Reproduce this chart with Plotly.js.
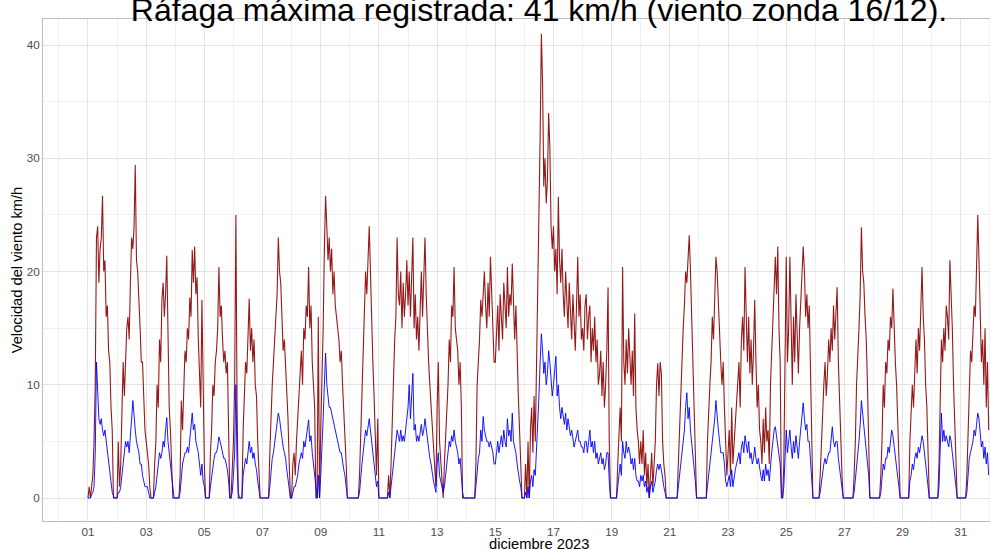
<!DOCTYPE html>
<html>
<head>
<meta charset="utf-8">
<script src="https://cdn.plot.ly/plotly-3.0.1.min.js"></script>
<style>
html,body{margin:0;padding:0;width:990px;height:549px;overflow:hidden;background:#fff;}
#chart{position:absolute;left:0;top:-20px;width:1045px;height:580px;}
</style>
</head>
<body>
<div id="chart"></div>
<script>
// Chart texts
const tituloGrafico = "Ráfaga máxima registrada: 41 km/h (viento zonda 16/12).";
const tituloEjeY = "Velocidad del viento km/h";
const tituloEjeX = "diciembre 2023";
const inicioMes = "2023-12-01";

// Hourly maximum gust (km/h), one row per day of December 2023
const rafagaPorDia = [
  [0,1,0,1,2,5,10,23,24,19,22,23,26.7,20,21,16,17,13,12,8,6,0,0,0],
  [0,5,1,3,8,12,9,13,15,16,14,19,23,22,24,29.4,21,20,16.6,15,12,12,9,6],
  [5,4,3,1,0,0,0,3,5,10,8,14,12,17.5,19,16,18,21.4,13,8,6,3,0,0],
  [0,0,0,0,2,8.6,6,10,13,12,15,14,17.7,16,21.9,19,22.2,18,19.5,14,10,8,17.5,10],
  [3,0,0,0,0,4,6,10,9,12,13,15,20.4,16,17,14,12,13,11,12,6,0,0,2],
  [5,10,25,8,0,0,0,0,6,10,12,11,14,17.6,13,15,12,14,10,9,5,2,0,0],
  [0,0,0,0,0,0,4,8,10,12,14,16,18,23,20,19,15,13,14,12,10,7,3,0],
  [0,3,4,2,5,7,9,11,13,10,15,14,17,16,20.4,15,17,12,10,8,0,0,16,0],
  [6,10,15,22,26.7,24,21,23,20,22,18,20,17,16,15,14,12,13,10,8,6,3,0,0],
  [0,0,0,0,0,0,0,0,2,6,10,13,16,20,18,21,24,20,15,12,9,6,2,7],
  [0,0,0,0,0,0,0,0,2,0,3,7,10,14,16,23,18,17,20,15,19,16,18,21],
  [17,20,16,19,23,15,18,14,16,13,17,20,16,19,23,18,14,12,10,8,6,4,2,1],
  [8,12,5,3,2,0,3,5,8,10,14,12,17,16,20.4,15,14,13,10,12,8,0,0,0],
  [0,0,0,0,0,0,0,0,3,10,12,14,17.5,16,18,20,17,15,19,16,21.3,18,14,12],
  [12,15,17,13,18,16,14,19,17,15,20.4,16,18,17,20.7,16,14,17,12,9,6,3,0,0],
  [0,3,0,5,0,6,8,4,9,5,12,15,22,32,41,36.6,27.5,30,26,28,34,31,24,22],
  [24,20,22,18,26.6,21,19,22,18,16,20,17,15,19,16,14,18,15,13,17,21.3,16,18,14],
  [15,13,17,18,14,16,17,12,15,13,16,12,14,10,11,13,9,12,8,10,13,18.6,5,0],
  [0,0,0,0,0,3,6,8,5,20.4,12,10,14,11,15,12,10,13,9,16.3,8,6,5,3],
  [5,3,6,2,4,1,3,0,2,4,1,3,5,10,11.9,9,12,11,5,3,2,0,0,0],
  [0,0,0,0,0,0,0,3,6,10,12,15,17,20,19,21,23.2,20,16,13,10,5,0,0],
  [0,0,0,0,0,0,0,5,8,10,12,16,14,18,21.3,20,17,14,12,10,12,8,4,2],
  [4,6,2,8,3,5,7,9,10,12,8,14,16,13,20.4,15,12,16,11,14,10,13,17.5,12],
  [8,10,6,5,3,7,4,8,5,6,3,10,13,17,20,21.3,18,22.2,15,12,0,0,3,10],
  [21.3,12,15,21.3,14,10,16,12,18,14,11,15,17,19,22.2,20,16,18,15,17,12,5,0,0],
  [0,0,0,0,2,5,8,10,12,9,11,14,12,15,13,17,14,16,18.6,12,8,5,2,0],
  [0,0,0,0,0,0,0,0,2,5,10,12,15,18,23.9,20,19,16,14,10,6,0,0,0],
  [0,0,0,0,0,0,2,5,10,8,12,11,14,13,16,15,18.5,14,12,10,6,3,0,0],
  [0,0,0,0,0,0,5,7,10,8,12,14,11,15,13,17,20.4,16,14,10,8,4,0,0],
  [0,0,0,0,0,0,3,10,14,12,15,13,17,16,14,21,18,15,10,6,3,0,0,0],
  [0,0,0,0,0,2,6,10,13,12,15,17,16,20,25,21,16,12,14,10,15,8,12,6]
];

// Hourly mean wind speed (km/h), one row per day
const vientoPorDia = [
  [0,0,0,0.3,0.5,1,4,12,9,7,6.5,7,6,5.5,6,5,4.5,3,2,1,0.5,0.2,0,0],
  [0,0.5,0.5,1,2,3,4,5,4.5,5,4,6,7,8.6,7,6,5,4.5,4,3,3,2,1.5,1],
  [1,1,0.5,0,0,0,0,0.5,1,2,3,4,3.5,4,5,4.5,6,7.1,5,4,3,1.5,0.5,0],
  [0,0,0,0,0.5,2,3,3.5,4,4,4.5,4,5,6,7.5,6,6.5,5,4.5,4,3,2,3,1.5],
  [1,0,0,0,0,1,2,3,3.5,4,4,4.5,5.4,5,4.5,4,3.5,3.5,3,2.5,1.5,0,0,0.5],
  [2,4,10,3,0.5,0,0,0,2,3,3.5,3,4,5,4,4.5,3.5,4,3,2.5,1.5,0.5,0,0],
  [0,0,0,0,0,0,1,2.5,3.5,4,5,6,6.5,7.5,7,6,5,4.5,4,3.5,2.5,1.5,0.5,0],
  [0,0.5,1,1,1.5,2,3,3.5,4,3.5,5,4.5,5.5,6,6.9,5,5.5,4,3,2,0.5,0,2,0],
  [2,4,7,10,12.8,10,9,8,8,7.5,7,6.5,6,5.5,5,4.5,4,4,3,2.5,2,1,0,0],
  [0,0,0,0,0,0,0,0,0.5,2,3,4,5,6,5.5,6.5,7,6,5,4,3,2,1,1.5],
  [0,0,0,0,0,0,0,0,0.5,0,1,2,3.5,4.5,5,6,5.5,5,6,5,5.5,5,6,7],
  [8,10,7,9,11,6,6.5,5,5.5,5,6,6.5,5.5,6,7,6,5,4,3.5,3,2,1.5,1,0.5],
  [3,4,2,1.5,1,0.5,1,2,3,4,5,4.5,5.5,5,6,5,4.5,4,3,3.5,2,0.5,0,0],
  [0,0,0,0,0,0,0,0,1,2.5,3.5,4,6,5,7.2,6,5.5,5,5,4.5,5,4.5,4,3],
  [3,4,5,4,5,5.5,4.5,6,5,4.5,7,5.5,6,5,7.5,5,4.5,4,3,2,1.5,1,0,0],
  [0,0.5,0,1,0,1.5,2,1,2.5,2,4,6,9,12,14.5,13,11,12,10,11,13,12,10,9],
  [10,11,12.5,9,10,8,7,8,7,6.5,7.5,6,7,6,5.5,6,5,4.5,5,5.5,6,5,5,4.5],
  [4.5,4,5,5,4,5,6,4.5,5,4,5,3.5,4,3,3.5,4,3,3.5,2.5,3,4,4,1.5,0],
  [0,0,0,0,0,1,2,3,2,5,4,3.5,5,4,4.5,4,3,3.5,2.5,3.5,2,1.5,1.5,1],
  [2,1.5,2,1,1.5,0.5,1,0,1,1.5,0.5,1,1.5,2.5,3,2.5,3,2.5,1.5,1,0.5,0,0,0],
  [0,0,0,0,0,0,0,1,2,3,4,5,6,8,9.3,7,8,6,5,4,3,1.5,0,0],
  [0,0,0,0,0,0,0,1,2,3,4,5,5.5,7,8.6,7,6,5,4,4,4,3,1.5,1],
  [1.5,2,1,2.5,1,2,2.5,3,3.5,4,3,4.5,5,4,5.5,4.5,4,5,3.5,4,3,3.5,4.5,3.5],
  [3,3.5,2.5,2,1.5,2.5,1.5,3,2,2.5,1.5,3,4,5,6,6.3,5.5,5,4,3,0.5,0,1,3],
  [6,4,5,6,4.5,3.5,5,4,5.5,4.5,3.5,5,6,7,8.4,7,6,6.5,5,5,3.5,1.5,0,0],
  [0,0,0,0,0.5,1.5,2.5,3,3.5,3,3.5,4,4,5,6.3,5,4.5,5,5,3.5,2.5,1.5,0.5,0],
  [0,0,0,0,0,0,0,0,0.5,1.5,3,4,5,6.5,8.6,7.5,6.5,5.5,4.5,3,2,0,0,0],
  [0,0,0,0,0,0,0.5,1.5,3,2.5,3.5,3.5,4.5,4,5,6,5.5,4.5,3.5,3,2,1,0,0],
  [0,0,0,0,0,0,1.5,2,3,2.5,3.5,4,3.5,4.5,4,5,5.5,5,4,3,2,1,0,0],
  [0,0,0,0,0,0,1,4,7.5,5,6,5,5.5,5,4.5,5.5,5,4,3,2,1,0,0,0],
  [0,0,0,0,0,0.5,2,3.5,4,4.5,5,6,5.5,6.5,7.5,7,5.5,4.5,5,3.5,4.5,3,4,2]
];

// ---- build timestamped series from the daily rows ----
const DAY = 86400000;
const t0 = Date.parse(inicioMes + "T00:00:00Z");
function fmt(ms){
  const d = new Date(ms);
  const p = n => String(n).padStart(2,"0");
  return d.getUTCFullYear()+"-"+p(d.getUTCMonth()+1)+"-"+p(d.getUTCDate())+" "+p(d.getUTCHours())+":"+p(d.getUTCMinutes())+":"+p(d.getUTCSeconds());
}
function serie(rows){
  const x=[], y=[];
  rows.forEach((row, di) => {
    row.forEach((v, k) => {
      x.push(fmt(t0 + di*DAY + k*(DAY/row.length)));
      y.push(v);
    });
  });
  return {x, y};
}
const sR = serie(rafagaPorDia);
const sV = serie(vientoPorDia);

const traces = [
  {type:"scatter", mode:"lines", x:sR.x, y:sR.y, name:"Ráfaga",
   line:{color:"rgba(139,0,0,0.9)", width:1.1}, hoverinfo:"x+y", showlegend:false},
  {type:"scatter", mode:"lines", x:sV.x, y:sV.y, name:"Viento",
   line:{color:"rgba(0,0,255,0.9)", width:1.0}, hoverinfo:"x+y", showlegend:false}
];

const layout = {
  width:1045, height:580,
  margin:{l:43, r:10, t:39, b:39},
  paper_bgcolor:"#ffffff", plot_bgcolor:"#ffffff",
  font:{family:"Liberation Sans, Arial, sans-serif", color:"#4D4D4D"},
  title:{text:tituloGrafico, font:{size:32, color:"#000000", family:"Liberation Sans, Arial, sans-serif"},
         x:0.5, xref:"paper", xanchor:"center", y:0.948, yref:"container", yanchor:"middle"},
  xaxis:{
    type:"date",
    range:[fmt(t0 - 1.546*DAY), fmt(t0 + 32.55*DAY)],
    tick0:inicioMes, dtick:2*DAY, tickformat:"%d",
    tickfont:{size:11.7, color:"#4D4D4D"},
    ticks:"",
    showgrid:true, gridcolor:"#E3E3E3", gridwidth:1,
    minor:{dtick:DAY, tick0:inicioMes, showgrid:true, gridcolor:"#ECECEC", gridwidth:0.8},
    showline:true, linecolor:"#BDBDBD", linewidth:1, mirror:true,
    zeroline:false
  },
  yaxis:{
    range:[-2.03, 42.3],
    tick0:0, dtick:10,
    tickfont:{size:11.7, color:"#4D4D4D"},
    ticks:"",
    showgrid:true, gridcolor:"#E3E3E3", gridwidth:1,
    minor:{dtick:5, showgrid:true, gridcolor:"#ECECEC", gridwidth:0.8},
    showline:true, linecolor:"#BDBDBD", linewidth:1, mirror:true,
    zeroline:false,
    title:{text:tituloEjeY, font:{size:14.7, color:"#000000"}, standoff:0}
  },
  annotations:[
    {text:tituloEjeX, xref:"paper", yref:"paper", x:0.5, y:0, xanchor:"center", yanchor:"middle",
     yshift:-23, showarrow:false, font:{size:14.7, color:"#000000", family:"Liberation Sans, Arial, sans-serif"}}
  ]
};

Plotly.newPlot("chart", traces, layout, {displayModeBar:false, staticPlot:true});
</script>
</body>
</html>
